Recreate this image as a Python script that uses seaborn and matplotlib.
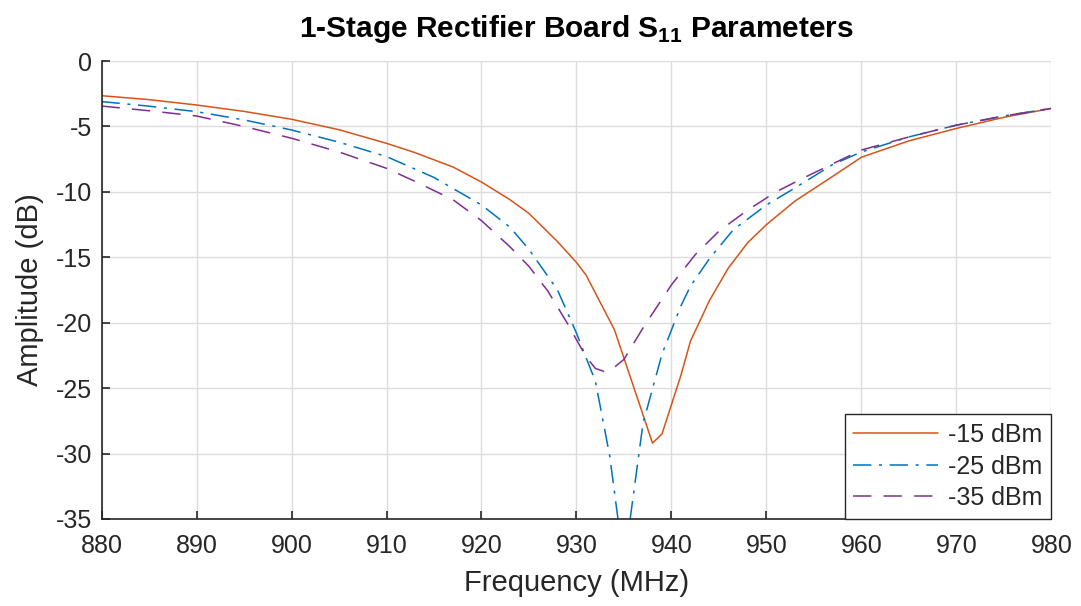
import matplotlib
matplotlib.use("Agg")
import matplotlib.pyplot as plt
import seaborn as sns
import pandas as pd

# S11 readings per input power
freq_15 = [880, 885, 890, 895, 900, 905, 910, 913, 917, 920, 923, 925, 928, 930, 931,
           934, 938, 939, 941, 942, 944, 946, 948, 950, 953, 957, 960, 965, 970, 975, 980]
s11_15 = [-2.65, -2.95, -3.36, -3.85, -4.45, -5.25, -6.29, -7.0, -8.1, -9.25, -10.6, -11.65,
          -13.8, -15.4, -16.35, -20.55, -29.2, -28.5, -24.0, -21.4, -18.3, -15.8, -13.9,
          -12.5, -10.7, -8.8, -7.35, -6.1, -5.15, -4.3, -3.62]

freq_25 = [880, 885, 890, 895, 900, 905, 910, 915, 920, 923, 925, 928, 930, 932, 933.5,
           935, 937, 939, 941, 942, 944, 946.5, 950, 953, 957, 960, 965, 970, 975, 980]
s11_25 = [-3.1, -3.45, -3.87, -4.5, -5.27, -6.2, -7.3, -8.9, -11.0, -12.7, -14.4, -17.5,
          -20.8, -24.5, -30.2, -38.5, -27.7, -22.4, -18.7, -17.2, -15.1, -12.9, -11.0,
          -9.7, -7.9, -6.95, -5.8, -4.9, -4.2, -3.62]

freq_35 = [880, 885, 890, 895, 900, 905, 910, 913, 917, 920, 923, 925, 927, 929, 931, 932,
           933, 934, 935, 937, 940, 942.5, 945, 948, 951, 954, 957.7, 960, 965, 970, 975, 980]
s11_35 = [-3.44, -3.8, -4.2, -5.0, -5.9, -6.95, -8.2, -9.2, -10.6, -12.2, -14.2, -15.7,
          -17.6, -20.0, -22.6, -23.5, -23.75, -23.4, -22.8, -20.4, -17.1, -14.8, -13.0,
          -11.4, -10.0, -8.9, -7.6, -6.8, -5.8, -4.9, -4.2, -3.62]

labels = ["-15 dBm", "-25 dBm", "-35 dBm"]
colors = ["#D95319", "#0072BD", "#7E2F8E"]
styles = ["-", (0, (12, 5, 2, 5)), (0, (12, 8))]

sns.set_theme(style="whitegrid")
plt.rcParams["font.family"] = ["Liberation Sans", "DejaVu Sans"]
plt.rcParams["axes.unicode_minus"] = False
plt.rcParams["mathtext.fontset"] = "custom"
plt.rcParams["mathtext.rm"] = "Liberation Sans"
plt.rcParams["mathtext.bf"] = "Liberation Sans:bold"

fig = plt.figure(figsize=(10.81, 6.06), dpi=100)
ax = fig.add_axes([0.0939, 0.1436, 0.8788, 0.7557])

for f, s, lab, c, ls in zip([freq_15, freq_25, freq_35], [s11_15, s11_25, s11_35],
                            labels, colors, styles):
    sns.lineplot(x=f, y=s, ax=ax, color=c, linestyle=ls, linewidth=1.1, label=lab)

ax.set_xlim(880, 980)
ax.set_ylim(-35, 0)
ax.set_xticks(range(880, 981, 10))
ax.set_yticks(range(-35, 1, 5))
ax.grid(True, color="#dcdcdc", linewidth=1.0)
ax.set_facecolor("white")
for side in ["top", "right"]:
    ax.spines[side].set_visible(False)
for side in ["left", "bottom"]:
    ax.spines[side].set_color("#262626")
    ax.spines[side].set_linewidth(1.2)
ax.tick_params(direction="in", length=6, width=1.2, colors="#262626",
               labelsize=18, left=True, bottom=True)
ax.tick_params(axis="x", pad=11)
ax.tick_params(axis="y", pad=7)

ax.set_xlabel("Frequency (MHz)", fontsize=21, color="#262626", labelpad=8)
ax.set_ylabel("Amplitude (dB)", fontsize=21, color="#262626", labelpad=8)
ax.set_title(r"1-Stage Rectifier Board S$_{\mathbf{11}}$ Parameters",
             fontsize=21.5, fontweight="bold", color="black", pad=17)

leg = ax.legend(loc="lower right", borderaxespad=0, fontsize=18, handlelength=3.4,
                frameon=True, fancybox=False, framealpha=1, labelspacing=0.3,
                borderpad=0.35, handletextpad=0.4)
leg.get_frame().set_edgecolor("#262626")
leg.get_frame().set_linewidth(1.0)

fig.savefig("out.png", dpi=100)
